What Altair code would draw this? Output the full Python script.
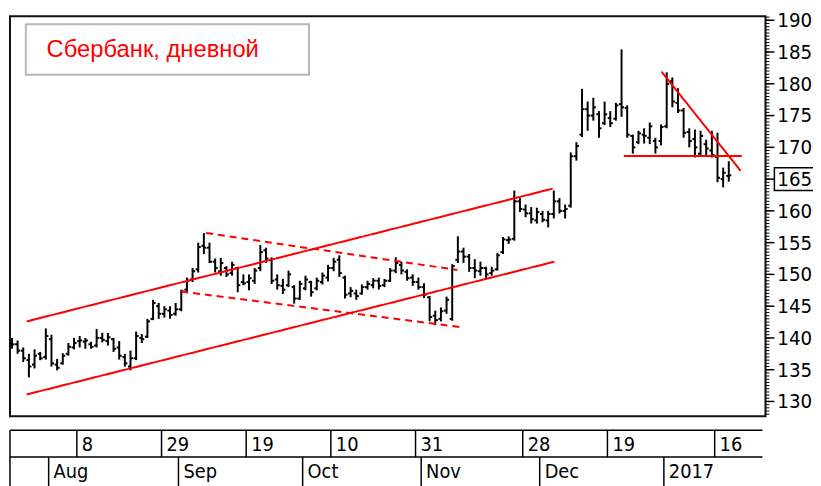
import altair as alt
import pandas as pd

# ---------------- data ----------------
day = list(range(128))
highs = [140.0, 139.6, 138.5, 137.5, 138.2, 137.8, 141.5, 140.5, 136.7, 137.6,
         139.2, 140.0, 140.3, 140.0, 139.4, 141.4, 140.8, 140.8, 140.0, 139.5,
         137.5, 138.0, 141.0, 140.6, 143.0, 146.0, 145.5, 145.0, 145.0, 145.5,
         147.6, 149.5, 151.0, 155.0, 156.5, 155.0, 152.5, 152.6, 151.3, 152.0,
         151.2, 150.0, 150.0, 151.0, 154.6, 154.2, 152.7, 150.0, 149.3, 150.6,
         148.3, 149.0, 149.8, 149.0, 149.5, 150.3, 151.5, 152.6, 153.0, 149.8,
         148.0, 147.6, 148.4, 149.0, 149.4, 149.5, 149.3, 151.0, 152.7, 152.0,
         150.8, 150.0, 149.5, 148.6, 146.6, 144.3, 144.8, 146.5, 151.6, 156.0,
         154.2, 153.2, 152.4, 152.0, 151.2, 151.2, 153.4, 155.9, 156.0, 163.2,
         162.0, 161.0, 160.6, 160.5, 160.0, 160.0, 163.2, 162.0, 161.0, 169.2,
         170.8, 179.2, 177.2, 177.8, 175.7, 177.2, 175.7, 177.0, 185.4, 176.6,
         172.0, 172.6, 173.0, 173.9, 171.5, 173.6, 181.8, 181.0, 179.3, 176.2,
         173.0, 172.8, 172.6, 171.2, 172.6, 172.3, 166.8, 167.8]
lows = [138.3, 137.5, 136.2, 133.8, 135.2, 136.5, 136.6, 135.5, 134.9, 135.8,
        137.2, 138.2, 138.5, 138.3, 138.3, 138.5, 139.3, 138.8, 137.8, 136.6,
        135.5, 134.9, 136.5, 139.2, 140.0, 142.8, 143.0, 143.2, 143.0, 143.5,
        144.2, 147.3, 148.8, 150.3, 153.2, 151.8, 150.3, 149.8, 149.6, 149.8,
        147.2, 148.3, 147.5, 148.5, 150.5, 151.8, 148.5, 147.6, 146.9, 148.0,
        145.4, 146.0, 147.5, 146.5, 147.5, 148.4, 148.9, 150.5, 149.6, 146.2,
        146.4, 146.0, 146.8, 147.6, 147.8, 147.6, 148.0, 148.8, 150.2, 150.0,
        149.0, 148.2, 147.6, 146.3, 142.6, 142.0, 142.6, 143.8, 142.7, 151.8,
        151.8, 150.4, 149.4, 149.8, 149.4, 149.8, 150.6, 153.2, 154.8, 155.3,
        159.8, 159.0, 158.0, 158.0, 158.2, 157.4, 158.8, 159.6, 158.8, 160.5,
        167.9, 171.6, 172.6, 174.2, 171.5, 173.5, 173.2, 174.2, 174.8, 171.5,
        169.0, 170.5, 170.6, 170.5, 169.0, 170.3, 173.0, 176.3, 175.4, 171.5,
        170.0, 168.4, 168.5, 168.6, 168.4, 164.5, 163.7, 164.6]
opens = [139.2, 139.0, 138.0, 136.5, 135.8, 137.5, 137.0, 139.8, 135.8, 136.0,
         137.5, 138.5, 139.5, 139.4, 139.0, 138.8, 140.0, 139.5, 139.8, 138.5,
         137.0, 135.5, 136.8, 140.0, 140.2, 143.0, 145.0, 143.8, 144.3, 143.8,
         144.5, 147.6, 149.2, 150.8, 154.5, 154.2, 152.0, 150.5, 151.0, 150.2,
         151.0, 148.8, 148.8, 149.0, 151.0, 153.8, 152.3, 149.2, 148.2, 148.3,
         148.0, 146.2, 147.8, 148.8, 147.8, 148.8, 149.5, 151.0, 152.3, 149.5,
         147.0, 147.0, 147.0, 148.0, 148.3, 149.0, 148.3, 149.0, 150.6, 151.5,
         150.4, 149.5, 148.8, 148.0, 146.4, 143.5, 143.0, 144.3, 143.0, 152.3,
         153.6, 152.8, 151.0, 150.5, 151.0, 150.2, 150.8, 153.5, 155.4, 155.6,
         161.5, 160.2, 159.6, 158.5, 159.5, 158.5, 159.5, 161.5, 160.0, 160.8,
         168.6, 172.0, 176.0, 175.0, 175.2, 173.8, 174.6, 174.5, 176.8, 176.2,
         171.8, 170.8, 172.0, 171.5, 171.0, 171.0, 173.3, 180.4, 177.0, 175.8,
         172.4, 171.3, 169.0, 170.5, 169.5, 168.5, 165.0, 165.5]
closes = [139.0, 138.0, 136.8, 135.5, 137.2, 136.8, 140.3, 136.0, 135.3, 137.2,
          138.6, 139.2, 139.6, 139.6, 138.6, 140.0, 139.7, 140.1, 138.3, 137.2,
          136.0, 136.8, 140.3, 139.8, 142.6, 145.5, 143.8, 144.5, 143.6, 144.5,
          147.3, 149.0, 150.5, 154.3, 154.2, 152.0, 151.0, 151.8, 150.0, 151.5,
          148.3, 148.6, 149.4, 150.6, 153.5, 152.5, 149.0, 148.3, 147.6, 150.0,
          146.2, 148.5, 149.2, 147.2, 149.0, 149.8, 151.0, 152.0, 150.2, 146.8,
          147.4, 146.6, 148.0, 148.5, 149.0, 148.2, 149.0, 150.6, 151.8, 150.6,
          149.4, 148.8, 148.0, 146.8, 143.3, 142.8, 144.2, 146.0, 151.3, 153.6,
          152.8, 151.0, 150.6, 151.0, 150.0, 150.6, 153.0, 155.5, 155.5, 161.5,
          160.3, 159.6, 158.7, 159.8, 158.6, 159.5, 161.5, 160.0, 160.3, 168.6,
          170.2, 176.0, 175.0, 176.3, 173.0, 175.2, 173.8, 176.6, 176.3, 172.0,
          170.0, 172.2, 171.8, 173.3, 170.0, 173.2, 180.0, 177.2, 175.8, 172.3,
          171.0, 170.0, 171.8, 169.8, 168.8, 165.2, 166.0, 165.6]

# bottom axis: tick days and their labels
tick_days = [12, 27, 42, 57, 72, 91, 106, 125]
tick_labels = ["8", "29", "19", "10", "31", "28", "19", "16"]
month_days = [7, 30, 52, 73, 94, 116]
month_labels = ["Aug", "Sep", "Oct", "Nov", "Dec", "2017"]

# y axis labels
y_major = [130, 135, 140, 145, 150, 155, 160, 165, 170, 175, 180, 185, 190]
y_labels = [str(v) for v in y_major]
last_label = [165]

# trend lines (day, price) pairs
line_x1 = [2.6, 2.6, 34.4, 30.0, 108.4, 115.1]
line_y1 = [142.6, 131.1, 156.5, 147.3, 168.65, 181.9]
line_x2 = [95.8, 96.1, 78.9, 79.5, 129.3, 129.1]
line_y2 = [163.5, 152.0, 150.7, 141.7, 168.65, 166.3]
line_style = ["solid", "solid", "dash", "dash", "solid", "solid"]

title_text = ["Сбербанк, дневной"]

# ---------------- chart ----------------
W, H = 763, 404
FONT = "DejaVu Sans Condensed, Liberation Sans Narrow, Arial Narrow, sans-serif"

xs = alt.Scale(domain=[-0.35, 133.5], nice=False, zero=False)
ys = alt.Scale(domain=[127.66, 190.62], nice=False, zero=False)
NX = dict(scale=xs, axis=None)
NY = dict(scale=ys, axis=None)

df = pd.DataFrame({"day": day, "o": opens, "h": highs, "l": lows, "c": closes})
df["ol"] = df["day"] - 0.45
df["cr"] = df["day"] + 0.45

base = alt.Chart(df)
vbars = base.mark_rule(color="#000", strokeWidth=2).encode(
    x=alt.X("day:Q", **NX), y=alt.Y("l:Q", **NY), y2="h:Q")
oticks = base.mark_rule(color="#000", strokeWidth=2).encode(
    x=alt.X("ol:Q", **NX), x2="day:Q", y=alt.Y("o:Q", **NY), y2="o:Q")
cticks = base.mark_rule(color="#000", strokeWidth=2).encode(
    x=alt.X("day:Q", **NX), x2="cr:Q", y=alt.Y("c:Q", **NY), y2="c:Q")

tl = pd.DataFrame({"x1": line_x1, "y1": line_y1, "x2": line_x2,
                   "y2": line_y2, "style": line_style})
trend = alt.Chart(tl).mark_rule(color="#ff0000", strokeWidth=2).encode(
    x=alt.X("x1:Q", **NX), x2="x2:Q", y=alt.Y("y1:Q", **NY), y2="y2:Q",
    strokeDash=alt.StrokeDash("style:N", legend=None,
                              scale=alt.Scale(domain=["solid", "dash"],
                                              range=[[1, 0], [7, 5]])))

# right price axis: minor ticks, major ticks and labels
minor_vals = [128 + 0.5 * k for k in range(126)]
minor = alt.Chart(pd.DataFrame({"v": minor_vals})).mark_rule(
    color="#000", strokeWidth=1).encode(
    y=alt.Y("v:Q", **NY), y2="v:Q", x=alt.value(W), x2=alt.value(W + 4))
ydf = pd.DataFrame({"v": y_major, "t": y_labels})
major = alt.Chart(ydf).mark_rule(color="#000", strokeWidth=1.5).encode(
    y=alt.Y("v:Q", **NY), y2="v:Q", x=alt.value(W), x2=alt.value(W + 9))
ylab = alt.Chart(ydf).mark_text(align="left", baseline="middle", font=FONT,
                                fontSize=20.5, dy=1, color="#000").encode(
    y=alt.Y("v:Q", **NY), x=alt.value(W + 12), text="t:N")

# box round the last-price label
lastbox = alt.Chart(pd.DataFrame({"p": last_label})).transform_calculate(
    lo="datum.p - 1.8", hi="datum.p + 1.8").mark_rect(
    fillOpacity=0, stroke="#000", strokeWidth=1.5).encode(
    y=alt.Y("hi:Q", **NY), y2="lo:Q", x=alt.value(W + 9), x2=alt.value(W + 70))

# bottom date boxes
one = pd.DataFrame({"k": [0]})
r1, r2, r3 = H + 14, H + 41, H + 80
hlines = alt.layer(
    alt.Chart(one).mark_rule(color="#000", strokeWidth=1.5).encode(
        x=alt.value(0), x2=alt.value(W - 3), y=alt.value(r1), y2=alt.value(r1)),
    alt.Chart(one).mark_rule(color="#000", strokeWidth=1.5).encode(
        x=alt.value(0), x2=alt.value(W - 3), y=alt.value(r2), y2=alt.value(r2)),
    alt.Chart(one).mark_rule(color="#000", strokeWidth=1.5).encode(
        x=alt.value(0), x2=alt.value(0), y=alt.value(r1), y2=alt.value(r3)),
)
tdf = pd.DataFrame({"d": tick_days, "lbl": tick_labels})
tdf["pos"] = tdf["d"] - 0.5
mdf = pd.DataFrame({"d": month_days, "lbl": month_labels})
mdf["pos"] = mdf["d"] - 0.5
tsep = alt.Chart(tdf).mark_rule(color="#000", strokeWidth=1.5).encode(
    x=alt.X("pos:Q", **NX), y=alt.value(r1), y2=alt.value(r2))
tlab = alt.Chart(tdf).mark_text(align="left", baseline="middle", dx=5, dy=1,
                                font=FONT, fontSize=20, color="#000").encode(
    x=alt.X("pos:Q", **NX), y=alt.value(r1 + 14), text="lbl:N")
msep = alt.Chart(mdf).mark_rule(color="#000", strokeWidth=1.5).encode(
    x=alt.X("pos:Q", **NX), y=alt.value(r2), y2=alt.value(r3))
mlab = alt.Chart(mdf).mark_text(align="left", baseline="middle", dx=5, dy=1,
                                font=FONT, fontSize=20, color="#000").encode(
    x=alt.X("pos:Q", **NX), y=alt.value(r2 + 14), text="lbl:N")

# title box
tbox = alt.Chart(one).mark_rect(fill="#fff", stroke="#b8b8b8",
                                strokeWidth=2).encode(
    x=alt.value(16), x2=alt.value(302), y=alt.value(8), y2=alt.value(59))
ttext = alt.Chart(pd.DataFrame({"t": title_text})).mark_text(
    align="left", baseline="alphabetic", font="Liberation Sans, Arial, sans-serif",
    fontSize=24, color="#ff0000").encode(
    x=alt.value(37), y=alt.value(41), text="t:N")

chart = alt.layer(
    vbars, oticks, cticks, trend, minor, major, ylab, lastbox,
    hlines, tsep, tlab, msep, mlab, tbox, ttext
).resolve_scale(x="shared", y="shared").properties(
    width=W, height=H,
    autosize=alt.AutoSizeParams(type="none"),
    padding={"left": 2, "top": 6, "right": 48, "bottom": 72},
    background="#ffffff",
).configure_view(stroke="#111", strokeWidth=2)

chart.save("out.html", embed_options={"renderer": "svg", "actions": False})
